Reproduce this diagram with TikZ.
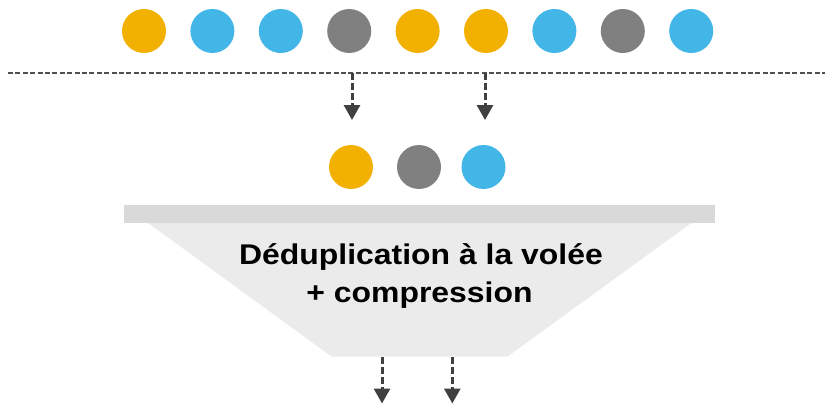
\documentclass[tikz,border=0pt]{standalone}
\usepackage{fontspec}
\setmainfont{Liberation Sans}
\newfontfamily\labelfont[FakeStretch=1.12]{Liberation Sans}
\usetikzlibrary{arrows.meta}
\definecolor{cOrange}{HTML}{F2B100}
\definecolor{cBlue}{HTML}{42B6E6}
\definecolor{cGray}{HTML}{808080}
\definecolor{cBar}{HTML}{D9D9D9}
\definecolor{cFunnel}{HTML}{EBEBEB}
\definecolor{cLine}{HTML}{505050}
\definecolor{cArrow}{HTML}{404040}
\tikzset{
  dot/.style={circle, inner sep=0pt, minimum size=44pt, draw=none},
  orangedot/.style={dot, fill=cOrange},
  bluedot/.style={dot, fill=cBlue},
  graydot/.style={dot, fill=cGray},
  sepline/.style={draw=cLine, line width=1.8pt, dash pattern=on 5pt off 2.4pt},
  flowarrow/.style={draw=cArrow, line width=3pt, dash pattern=on 6.5pt off 3.5pt,
    -{Triangle[width=16pt,length=15pt]}},
  label/.style={font=\labelfont\bfseries\fontsize{28.5}{34}\selectfont, text=black, inner sep=0pt}
}
\begin{document}
\begin{tikzpicture}[x=1pt,y=-1pt]
\useasboundingbox (0,0) rectangle (825,404);
% top row
\node[orangedot] (t1) at (144,31) {};
\node[bluedot]   (t2) at (212.4,31) {};
\node[bluedot]   (t3) at (280.8,31) {};
\node[graydot]   (t4) at (349.2,31) {};
\node[orangedot] (t5) at (417.6,31) {};
\node[orangedot] (t6) at (486,31) {};
\node[bluedot]   (t7) at (554.4,31) {};
\node[graydot]   (t8) at (622.8,31) {};
\node[bluedot]   (t9) at (691.2,31) {};
% separator
\coordinate (sl) at (8,73.3);
\coordinate (sr) at (825,73.3);
\draw[sepline] (sl) -- (sr);
\coordinate (a1s) at (352,73.3);
\coordinate (a1e) at (352,120);
\coordinate (a2s) at (485,73.3);
\coordinate (a2e) at (485,120);
\draw[flowarrow] (a1s) -- (a1e);
\draw[flowarrow] (a2s) -- (a2e);
% middle row
\node[orangedot] (m1) at (351,167) {};
\node[graydot]   (m2) at (419,167) {};
\node[bluedot]   (m3) at (483.5,167) {};
% funnel
\fill[cFunnel] (146.7,222) -- (692.7,222) -- (507.3,356.7) -- (331.7,356.7) -- cycle;
\fill[cBar] (124,204.5) rectangle (715.3,223);
\node[label, anchor=base] (l1) at (421,264.3) {Déduplication à la volée};
\node[label, anchor=base] (l2) at (419.5,302.5) {+ compression};
% output arrows
\coordinate (b1s) at (382,357);
\coordinate (b1e) at (382,403.5);
\coordinate (b2s) at (452.3,357);
\coordinate (b2e) at (452.3,403.5);
\draw[flowarrow] (b1s) -- (b1e);
\draw[flowarrow] (b2s) -- (b2e);
\end{tikzpicture}
\end{document}
